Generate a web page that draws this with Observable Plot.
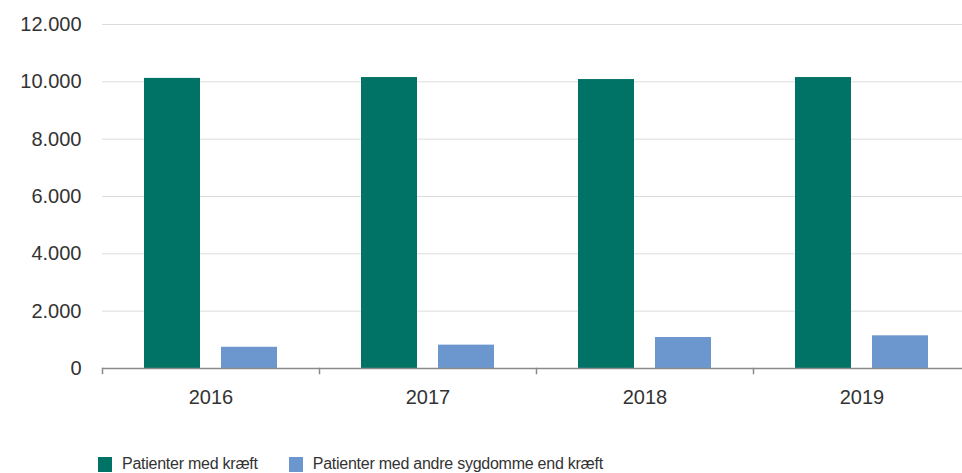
<!DOCTYPE html>
<html>
<head>
<meta charset="utf-8">
<script src="https://cdn.jsdelivr.net/npm/d3@7"></script>
<script src="https://cdn.jsdelivr.net/npm/@observablehq/plot@0.6"></script>
<style>
  html, body { margin: 0; padding: 0; background: #fff; }
  #wrap { position: relative; width: 962px; height: 473px; overflow: hidden; font-family: "Liberation Sans", Arial, sans-serif; color: #333; }
  #legend { position: absolute; left: 98px; top: 452px; height: 24px; display: flex; align-items: center; font-size: 16px; letter-spacing: -0.25px; color: #333; }
  .item { display: flex; align-items: center; margin-right: 31px; }
  .sw { width: 14px; height: 15px; margin-right: 10px; }
</style>
</head>
<body>
<div id="wrap">
  <div id="chart"></div>
  <div id="legend"></div>
</div>
<script>
const years = [2016, 2017, 2018, 2019];
const series = ["Patienter med kræft", "Patienter med andre sygdomme end kræft"];
const kraeft = [10120, 10150, 10080, 10150];
const andre = [740, 815, 1080, 1140];
const colors = ["#007366", "#6b97ce"];
const yTicks = [0, 2000, 4000, 6000, 8000, 10000, 12000];

const data = [];
years.forEach((yr, i) => {
  data.push({year: yr, series: series[0], value: kraeft[i]});
  data.push({year: yr, series: series[1], value: andre[i]});
});

const da = d3.formatLocale({decimal: ",", thousands: ".", grouping: [3], currency: ["", " kr."]});
const fmt = da.format(",");

const chart = Plot.plot({
  width: 962,
  height: 420,
  marginLeft: 101,
  marginRight: -8,
  marginTop: 24,
  marginBottom: 52,
  style: {fontFamily: "'Liberation Sans', Arial, sans-serif", fontSize: "20px", color: "#333", background: "transparent"},
  fx: {domain: years, padding: 0, label: null, tickSize: 0, tickPadding: 21, axis: "bottom", tickFormat: d => String(d)},
  x: {domain: series, paddingInner: 0.2727, paddingOuter: 0.545, axis: null},
  y: {domain: [0, 12000], ticks: yTicks, tickFormat: fmt, tickSize: 0, tickPadding: 21, label: null},
  color: {domain: series, range: colors},
  marks: [
    Plot.ruleY(yTicks.filter(d => d > 0), {stroke: "#dcdcdc", strokeWidth: 1}),
    Plot.barY(data, {fx: "year", x: "series", y: "value", fill: "series"}),
    Plot.ruleY([0], {stroke: "#8a8a8a", strokeWidth: 1.5}),
    Plot.frame({anchor: "left", insetTop: 344, insetBottom: -5, stroke: "#8a8a8a", strokeWidth: 1.5})
  ]
});
document.getElementById("chart").appendChild(chart);

const legend = document.getElementById("legend");
series.forEach((s, i) => {
  const it = document.createElement("div");
  it.className = "item";
  const sw = document.createElement("div");
  sw.className = "sw";
  sw.style.background = colors[i];
  const t = document.createElement("span");
  t.textContent = s;
  it.appendChild(sw);
  it.appendChild(t);
  legend.appendChild(it);
});
</script>
</body>
</html>
